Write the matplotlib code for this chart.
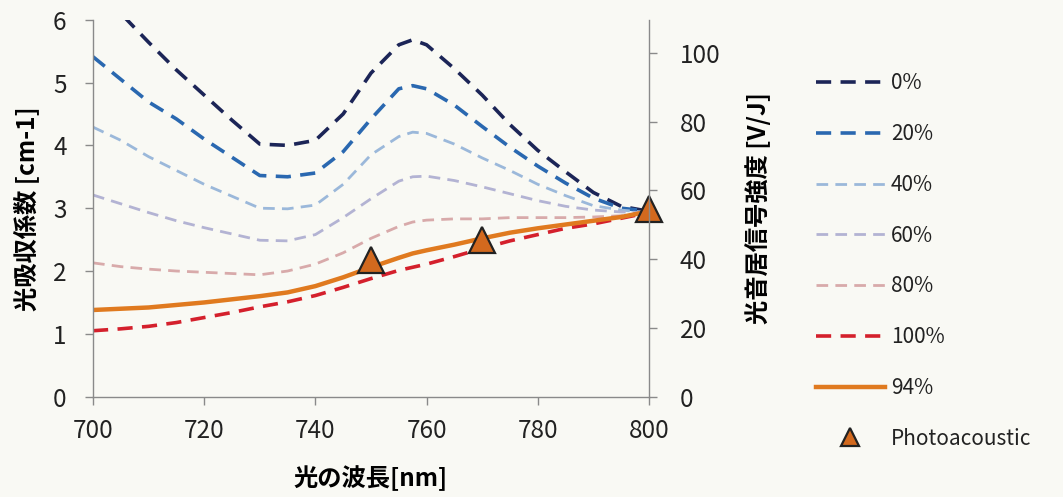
import numpy as np
import matplotlib
matplotlib.use("Agg")
import matplotlib.pyplot as plt

plt.rcParams['font.family'] = ['Noto Sans CJK JP', 'DejaVu Sans']

# wavelength [nm]
wl = [700, 705, 710, 715, 720, 725, 730, 735, 740, 745, 750,
      755, 757.5, 760, 765, 770, 775, 780, 785, 790, 795, 800]

# absorption coefficient [cm-1] per oxygen saturation
abs_0 = [6.55, 6.10, 5.64, 5.20, 4.80, 4.40, 4.02, 4.00, 4.08, 4.50, 5.15,
         5.60, 5.68, 5.60, 5.22, 4.80, 4.33, 3.92, 3.58, 3.25, 3.03, 2.95]
abs_20 = [5.41, 5.05, 4.69, 4.42, 4.10, 3.81, 3.52, 3.50, 3.56, 3.90, 4.42,
          4.90, 4.95, 4.90, 4.64, 4.30, 3.97, 3.67, 3.40, 3.16, 3.00, 2.95]
abs_40 = [4.29, 4.08, 3.82, 3.60, 3.38, 3.19, 3.00, 2.99, 3.05, 3.38, 3.85,
          4.14, 4.21, 4.19, 4.02, 3.80, 3.60, 3.38, 3.20, 3.04, 2.97, 2.93]
abs_60 = [3.21, 3.07, 2.93, 2.80, 2.69, 2.59, 2.49, 2.48, 2.58, 2.85, 3.15,
          3.43, 3.50, 3.51, 3.44, 3.34, 3.23, 3.12, 3.03, 2.97, 2.94, 2.93]
abs_80 = [2.13, 2.07, 2.03, 2.00, 1.98, 1.96, 1.94, 2.00, 2.11, 2.29, 2.52,
          2.71, 2.78, 2.81, 2.83, 2.83, 2.85, 2.85, 2.85, 2.86, 2.88, 2.93]
abs_100 = [1.05, 1.08, 1.12, 1.18, 1.26, 1.34, 1.43, 1.51, 1.61, 1.74, 1.88,
           2.01, 2.06, 2.11, 2.23, 2.36, 2.48, 2.58, 2.68, 2.75, 2.84, 2.93]
abs_94 = [1.38, 1.40, 1.42, 1.46, 1.50, 1.55, 1.60, 1.66, 1.76, 1.90, 2.06,
          2.21, 2.28, 2.33, 2.42, 2.52, 2.61, 2.68, 2.74, 2.80, 2.86, 2.95]

# photoacoustic signal [V/J]
pa_wl = [750, 770, 800]
pa_val = [39.9, 45.7, 54.7]

series = [
    ("0%", abs_0, "#1c2557", 2.6),
    ("20%", abs_20, "#2a68b0", 2.6),
    ("40%", abs_40, "#9bb8da", 2.0),
    ("60%", abs_60, "#b3b3d3", 2.0),
    ("80%", abs_80, "#d8aaaa", 2.0),
    ("100%", abs_100, "#d4202c", 2.6),
]

bg = "#f9f9f4"
fig = plt.figure(figsize=(10.63, 4.97), dpi=100, facecolor=bg)
ax = fig.add_axes([0.0875, 0.2018, 0.523, 0.7586])
ax.set_facecolor(bg)

handles = []
for name, vals, col, lw in series:
    h, = ax.plot(wl, vals, color=col, lw=lw, linestyle=(0, (4.2, 2.6)),
                 label=name, solid_capstyle='butt')
    handles.append(h)
h94, = ax.plot(wl, abs_94, color="#e07a1f", lw=3.2, label="94%")
handles.append(h94)

ax.set_xlim(700, 800)
ax.set_ylim(0, 6)
ax.set_xticks(range(700, 801, 20))
ax.set_yticks(range(0, 7))

ax2 = ax.twinx()
ax2.set_ylim(0, 109.7)
ax2.set_yticks(range(0, 101, 20))
hpa, = ax2.plot(pa_wl, pa_val, linestyle='none', marker='^', markersize=19,
                markerfacecolor="#d2691e", markeredgecolor="#222222",
                markeredgewidth=1.6, label="Photoacoustic", clip_on=False)
handles.append(hpa)

spine_col = "#8a8a8a"
for a in (ax, ax2):
    a.spines['top'].set_visible(False)
    for s in ('left', 'right', 'bottom'):
        a.spines[s].set_color(spine_col)
        a.spines[s].set_linewidth(1.0)
ax2.spines['left'].set_visible(False)
ax2.spines['bottom'].set_visible(False)
ax.spines['right'].set_visible(False)

ax.tick_params(axis='both', direction='out', length=6, width=1.0, color=spine_col,
               labelsize=17.5, labelcolor="#222222")
ax.tick_params(axis='y', pad=13)
ax.tick_params(axis='x', pad=9)
ax2.tick_params(axis='y', direction='out', length=6, width=1.0, color=spine_col,
                labelsize=17.5, labelcolor="#222222", pad=16)

ax.set_xlabel("光の波長[nm]", fontsize=17.5, fontweight='bold', labelpad=16)
ax.set_ylabel("光吸収係数 [cm-1]", fontsize=17.5, fontweight='bold', labelpad=10)
ax2.set_ylabel("光音居信号強度 [V/J]", fontsize=17.5, fontweight='bold', labelpad=18)

leg = fig.legend(handles=handles, loc='upper left', bbox_to_anchor=(0.75, 0.892),
                 frameon=False, fontsize=15, handlelength=3.3, handletextpad=0.3,
                 labelspacing=1.38, markerscale=0.68)
for t in leg.get_texts():
    t.set_color("#222222")

fig.savefig("out.png", dpi=100, facecolor=bg)
